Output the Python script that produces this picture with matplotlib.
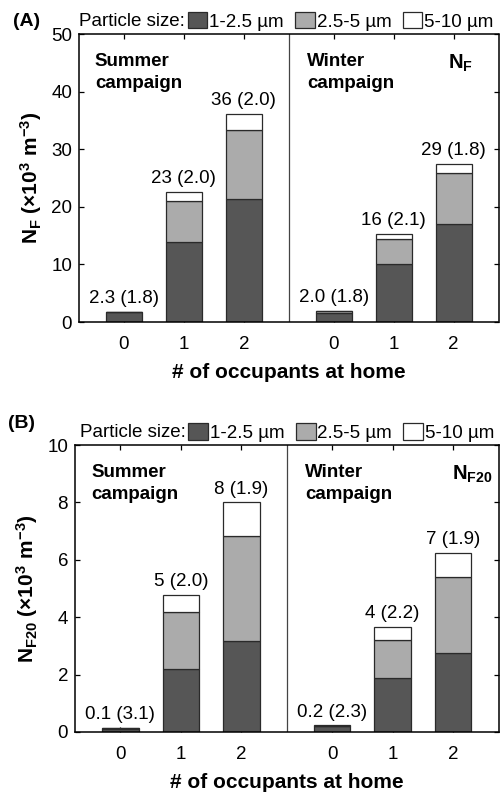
import matplotlib.pyplot as plt
from matplotlib.patches import Patch

plt.rcParams['font.family'] = ['Liberation Sans', 'DejaVu Sans']
plt.rcParams['mathtext.fontset'] = 'custom'
plt.rcParams['mathtext.rm'] = 'Liberation Sans'
plt.rcParams['mathtext.bf'] = 'Liberation Sans:bold'

occupants = ['0', '1', '2']

# panel A, N_F (x10^3 m^-3): summer then winter
nf_small_summer = [1.70, 13.9, 21.4]
nf_mid_summer = [0.08, 7.2, 11.9]
nf_large_summer = [0.02, 1.5, 2.8]
nf_small_winter = [1.55, 10.1, 17.0]
nf_mid_winter = [0.35, 4.4, 8.8]
nf_large_winter = [0.05, 0.8, 1.6]
nf_labels_summer = ['2.3 (1.8)', '23 (2.0)', '36 (2.0)']
nf_labels_winter = ['2.0 (1.8)', '16 (2.1)', '29 (1.8)']

# panel B, N_F20
nf20_small_summer = [0.12, 2.20, 3.16]
nf20_mid_summer = [0.02, 1.99, 3.67]
nf20_large_summer = [0.005, 0.58, 1.17]
nf20_small_winter = [0.20, 1.87, 2.77]
nf20_mid_winter = [0.02, 1.33, 2.62]
nf20_large_winter = [0.01, 0.47, 0.85]
nf20_labels_summer = ['0.1 (3.1)', '5 (2.0)', '8 (1.9)']
nf20_labels_winter = ['0.2 (2.3)', '4 (2.2)', '7 (1.9)']

size_names = ['1-2.5 µm', '2.5-5 µm', '5-10 µm']
colors = ['#565656', '#ababab', '#ffffff']
edge = '#2a2a2a'

x_summer = [0, 1, 2]
x_winter = [3.5, 4.5, 5.5]

FS = 13.5


def draw_panel(ax, parts_summer, parts_winter, labels_s, labels_w, ymax, ystep,
               panel, name, leg_x, nx, panel_y):
    for xs, parts, labels in [(x_summer, parts_summer, labels_s),
                              (x_winter, parts_winter, labels_w)]:
        bottom = [0, 0, 0]
        for vals, c in zip(parts, colors):
            ax.bar(xs, vals, width=0.6, bottom=bottom, color=c, edgecolor=edge,
                   linewidth=0.9, zorder=2)
            bottom = [b + v for b, v in zip(bottom, vals)]
        for x, top, lab in zip(xs, bottom, labels):
            ax.annotate(lab, (x, top), xytext=(0, 3.5), textcoords='offset points',
                        ha='center', va='bottom', fontsize=FS)
    ax.axvline(2.75, color='#444444', lw=0.9)
    ax.set_xlim(-0.75, 6.25)
    ax.set_ylim(0, ymax)
    ax.set_yticks([i * ystep for i in range(6)])
    ax.set_xticks(x_summer + x_winter)
    ax.set_xticklabels(occupants + occupants)
    ax.tick_params(direction='in', top=True, right=True, labelsize=FS,
                   length=3.5, width=0.9)
    ax.tick_params(axis='x', pad=10)
    ax.tick_params(axis='y', pad=5)
    for s in ax.spines.values():
        s.set_linewidth(1.1)
    ax.set_xlabel('# of occupants at home', fontsize=15, fontweight='bold',
                  labelpad=7)
    ax.set_ylabel(r'$\mathbf{N_{%s}}$ $\mathbf{(\times10^{3}\ m^{-3})}$' % name,
                  fontsize=15, labelpad=5)
    ax.text(0.038, 0.935, 'Summer\ncampaign', transform=ax.transAxes,
            fontsize=FS, fontweight='bold', va='top', ha='left', linespacing=1.4)
    ax.text(0.543, 0.935, 'Winter\ncampaign', transform=ax.transAxes,
            fontsize=FS, fontweight='bold', va='top', ha='left', linespacing=1.4)
    ax.text(nx, 0.935, r'$\mathbf{N_{%s}}$' % name,
            transform=ax.transAxes, fontsize=14.5, va='top', ha='right')
    ax.text(-0.158, panel_y, panel, transform=ax.transAxes, fontsize=14,
            fontweight='bold', va='center', ha='left')
    ax.text(leg_x - 0.006, 1.045, 'Particle size:', transform=ax.transAxes,
            fontsize=FS, va='center', ha='right')
    handles = [Patch(facecolor=c, edgecolor=edge, linewidth=0.9) for c in colors]
    ax.legend(handles, size_names, ncol=3, loc='center left',
              bbox_to_anchor=(leg_x, 1.045), frameon=False, fontsize=FS,
              handlelength=1.05, handleheight=1.0, handletextpad=0.1,
              columnspacing=0.6, borderpad=0, borderaxespad=0)


fig = plt.figure(figsize=(5, 7.92), dpi=100)
ax_a = fig.add_axes([0.158, 0.5934, 0.839, 0.3636])
ax_b = fig.add_axes([0.150, 0.0758, 0.847, 0.3622])

draw_panel(ax_a, [nf_small_summer, nf_mid_summer, nf_large_summer],
           [nf_small_winter, nf_mid_winter, nf_large_winter],
           nf_labels_summer, nf_labels_winter, 50, 10, '(A)', 'F', 0.259, 0.94,
           1.045)
draw_panel(ax_b, [nf20_small_summer, nf20_mid_summer, nf20_large_summer],
           [nf20_small_winter, nf20_mid_winter, nf20_large_winter],
           nf20_labels_summer, nf20_labels_winter, 10, 2, '(B)', 'F20', 0.268, 0.985,
           1.075)

fig.savefig('out.png', dpi=100)
